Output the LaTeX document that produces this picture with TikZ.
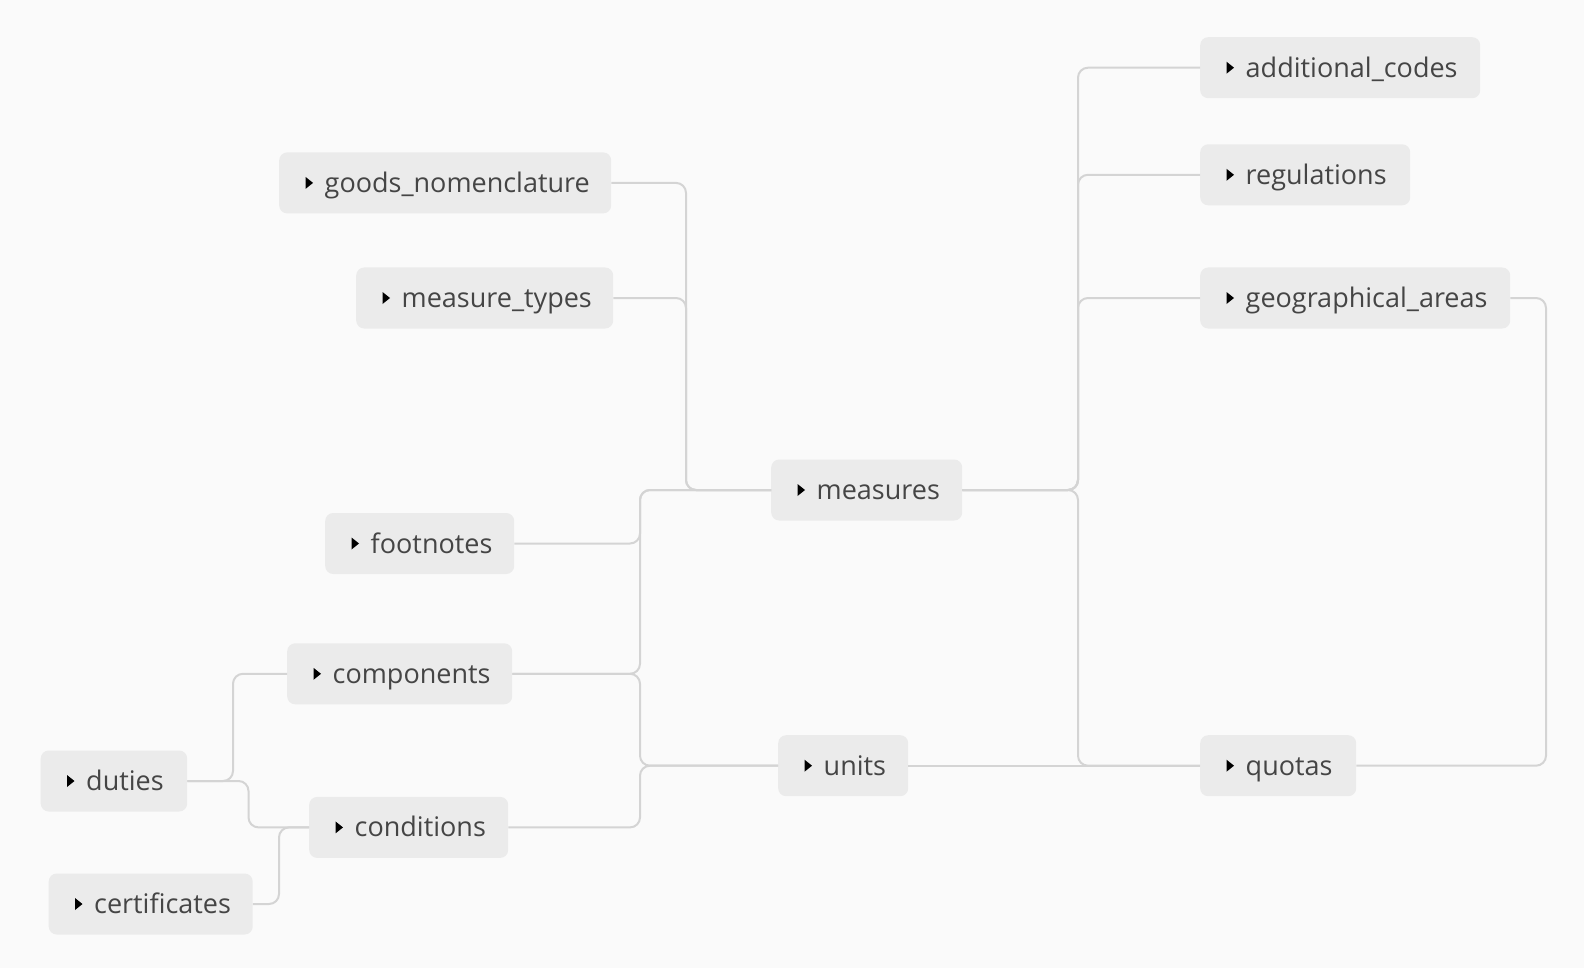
\documentclass[tikz,border=0pt]{standalone}
\usepackage{fontspec}
\setmainfont{Open Sans}
\usetikzlibrary{calc}
\definecolor{bg}{HTML}{FAFAFA}
\definecolor{boxfill}{HTML}{EBEBEB}
\definecolor{linec}{HTML}{D4D4D4}
\definecolor{txt}{HTML}{454545}
\tikzset{
 box/.style={draw=none, fill=boxfill, rounded corners=8pt, minimum height=61pt, inner sep=0pt, anchor=west},
 lbl/.style={text=txt, font=\fontsize{27}{30}\selectfont, inner sep=0pt, anchor=base west},
 conn/.style={draw=linec, line width=2pt, rounded corners=10pt},
}
\newcommand\entity[5]{%
 \node[box, minimum width=#4] (#1) at (#2,#3) {};
 \node[lbl] (#1-t) at ([xshift=45.5pt, yshift=-9.5pt]#1.west) {#5};
 \fill[black] ([xshift=26.5pt,yshift=6pt]#1.west) -- ++(0,-12pt) -- ++(7.5pt,6pt) -- cycle;
}
\begin{document}
\begin{tikzpicture}[x=1pt,y=-1pt]
\fill[bg] (0,0) rectangle (1584,968);
\useasboundingbox (0,0) rectangle (1584,968);
\coordinate (vA) at (686,0);
\coordinate (vB) at (640,0);
\coordinate (vC) at (1078,0);
\coordinate (vD) at (1546,0);
\coordinate (vE) at (233,0);
\coordinate (vF) at (248.5,0);
\coordinate (vG) at (279,0);

\entity{ac}{1200}{67.7}{280}{additional\_codes}
\entity{rg}{1200}{174.8}{210}{regulations}
\entity{ga}{1200}{298}{310}{geographical\_areas}
\entity{qu}{1200}{765.7}{156}{quotas}
\entity{gn}{279}{182.9}{332}{goods\_nomenclature}
\entity{mt}{356}{298}{257}{measure\_types}
\entity{ms}{771}{490}{191}{measures}
\entity{fn}{325}{543.5}{189}{footnotes}
\entity{cp}{287}{673.8}{225}{components}
\entity{un}{778}{765.7}{130}{units}
\entity{du}{40.5}{781}{146.5}{duties}
\entity{cd}{309}{827.4}{199}{conditions}
\entity{ce}{48.5}{904}{204}{certificates}

\draw[conn] (gn.east) -- (vA |- gn.east) -- (vA |- ms.west) -- (ms.west);
\draw[conn] (mt.east) -- (vA |- mt.east) -- (vA |- ms.west) -- (ms.west);
\draw[conn] (fn.east) -- (vB |- fn.east) -- (vB |- ms.west) -- (ms.west);
\draw[conn] (cp.east) -- (vB |- cp.east) -- (vB |- ms.west) -- (ms.west);
\draw[conn] (cp.east) -- (vB |- cp.east) -- (vB |- un.west) -- (un.west);
\draw[conn] (cd.east) -- (vB |- cd.east) -- (vB |- un.west) -- (un.west);
\draw[conn] (du.east) -- (vE |- du.east) -- (vE |- cp.west) -- (cp.west);
\draw[conn] (du.east) -- (vF |- du.east) -- (vF |- cd.west) -- (cd.west);
\draw[conn] (ce.east) -- (vG |- ce.east) -- (vG |- cd.west) -- (cd.west);
\draw[conn] (ms.east) -- (vC |- ms.east) -- (vC |- ac.west) -- (ac.west);
\draw[conn] (ms.east) -- (vC |- ms.east) -- (vC |- rg.west) -- (rg.west);
\draw[conn] (ms.east) -- (vC |- ms.east) -- (vC |- ga.west) -- (ga.west);
\draw[conn] (ms.east) -- (vC |- ms.east) -- (vC |- qu.west) -- (qu.west);
\draw[conn] (un.east) -- (qu.west);
\draw[conn] (ga.east) -- (vD |- ga.east) -- (vD |- qu.east) -- (qu.east);
\end{tikzpicture}
\end{document}
